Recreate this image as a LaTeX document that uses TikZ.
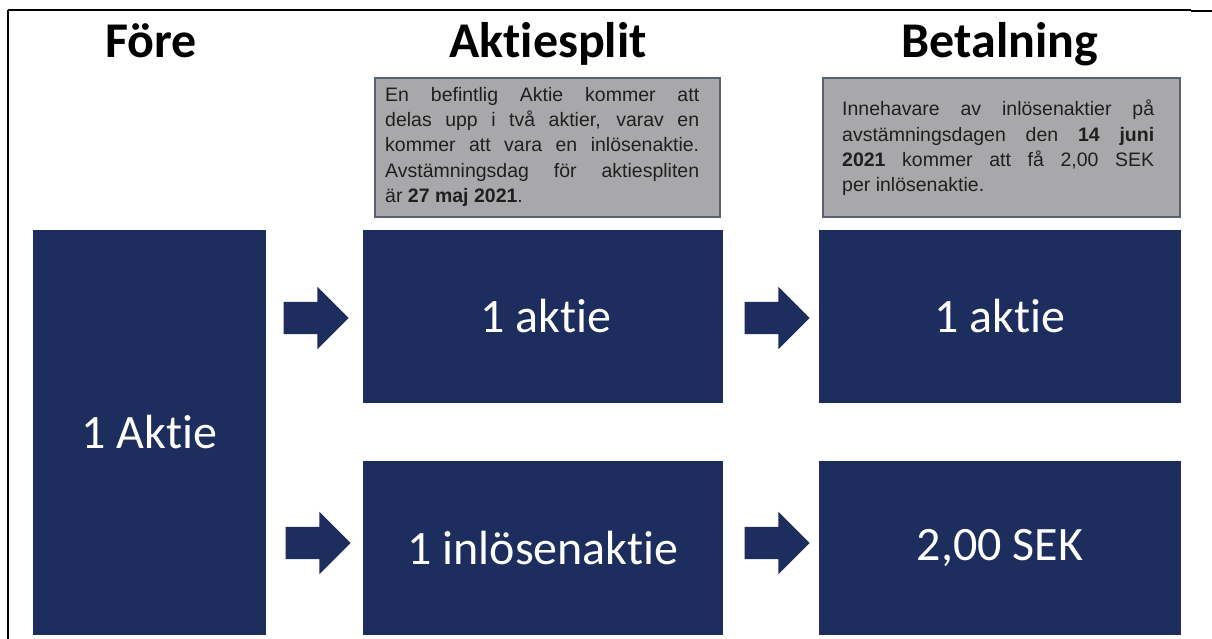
\documentclass[tikz,border=0pt]{standalone}
\usepackage{fontspec}
\setmainfont{Liberation Sans}
\newfontfamily\calib[Ligatures=NoCommon]{Carlito}
\usetikzlibrary{shapes.arrows}
\definecolor{navy}{RGB}{28,45,94}
\definecolor{infogray}{RGB}{168,168,170}
\definecolor{infoborder}{RGB}{90,97,112}
\tikzset{
  navybox/.style={fill=navy, draw=none, inner sep=0pt, text=white,
    font=\calib\fontsize{48}{54}\selectfont},
  infobox/.style={fill=infogray, draw=infoborder, line width=1.5pt, inner sep=0pt},
  infotext/.style={inner sep=0pt, anchor=north west, align=justify,
    font=\fontsize{19.5}{25.3}\selectfont, text=black!88},
  header/.style={font=\calib\bfseries\fontsize{50}{56}\selectfont, anchor=base, inner sep=0pt},
  blockarrow/.style={single arrow, fill=navy, draw=none, inner sep=16pt,
    minimum width=62pt, minimum height=65pt, single arrow head extend=15pt,
    single arrow tip angle=90},
  frameline/.style={draw=black, line width=2pt}
}
\begin{document}
\begin{tikzpicture}[x=1pt,y=-1pt]
\useasboundingbox (0,0) rectangle (1212,639);
\fill[white] (0,0) rectangle (1212,639);
% frame
\coordinate (ftl) at (8,10);
\coordinate (fbl) at (8,639);
\coordinate (ftr) at (1191,10);
\coordinate (fja) at (1191,11);
\coordinate (fjb) at (1212,11);
\draw[frameline] (fbl) -- (ftl);
\draw[draw=black, line width=1.5pt] (ftl) -- (ftr);
\draw[draw=black, line width=2.5pt] (fja) -- (fjb);
% headers
\node[header] (h1) at (151,58) {Före};
\node[header] (h2) at (548,58) {Aktiesplit};
\node[header] (h3) at (1000,58) {Betalning};
% info boxes
\node[infobox, minimum width=345pt, minimum height=139pt] (info1) at (547.5,147.5) {};
\node[infobox, minimum width=357pt, minimum height=139pt] (info2) at (1001.5,147.5) {};
\node[infotext, text width=314pt] (t1) at (385,87) {En befintlig Aktie kommer att\linebreak
delas upp i två aktier, varav en\linebreak
kommer att vara en inlösenaktie.\linebreak
Avstämningsdag för aktiespliten\linebreak
är \textbf{27 maj 2021}.};
\node[infotext, text width=312pt] (t2) at (842,100) {Innehavare av inlösenaktier på\linebreak
avstämningsdagen den \textbf{14 juni}\linebreak
\textbf{2021} kommer att få 2,00 SEK\linebreak
per inlösenaktie.};
% navy boxes
\node[navybox, minimum width=233pt, minimum height=405pt] (fore) at (149.5,432.5) {1 Aktie};
\node[navybox, minimum width=360pt, minimum height=173pt] (s1) at (543,316.5) {\hspace*{6pt}1 aktie};
\node[navybox, minimum width=360pt, minimum height=174pt] (s2) at (543,548) {1 inlösenaktie};
\node[navybox, minimum width=362pt, minimum height=173pt] (p1) at (1000,316.5) {1 aktie};
\node[navybox, minimum width=362pt, minimum height=174pt] (p2) at (1000,548) {2,00 SEK};
% block arrows
\node[blockarrow] (a1) at (308,318) {};
\node[blockarrow] (a2) at (310,543) {};
\node[blockarrow] (a3) at (769,318) {};
\node[blockarrow] (a4) at (769,543) {};
\end{tikzpicture}
\end{document}
